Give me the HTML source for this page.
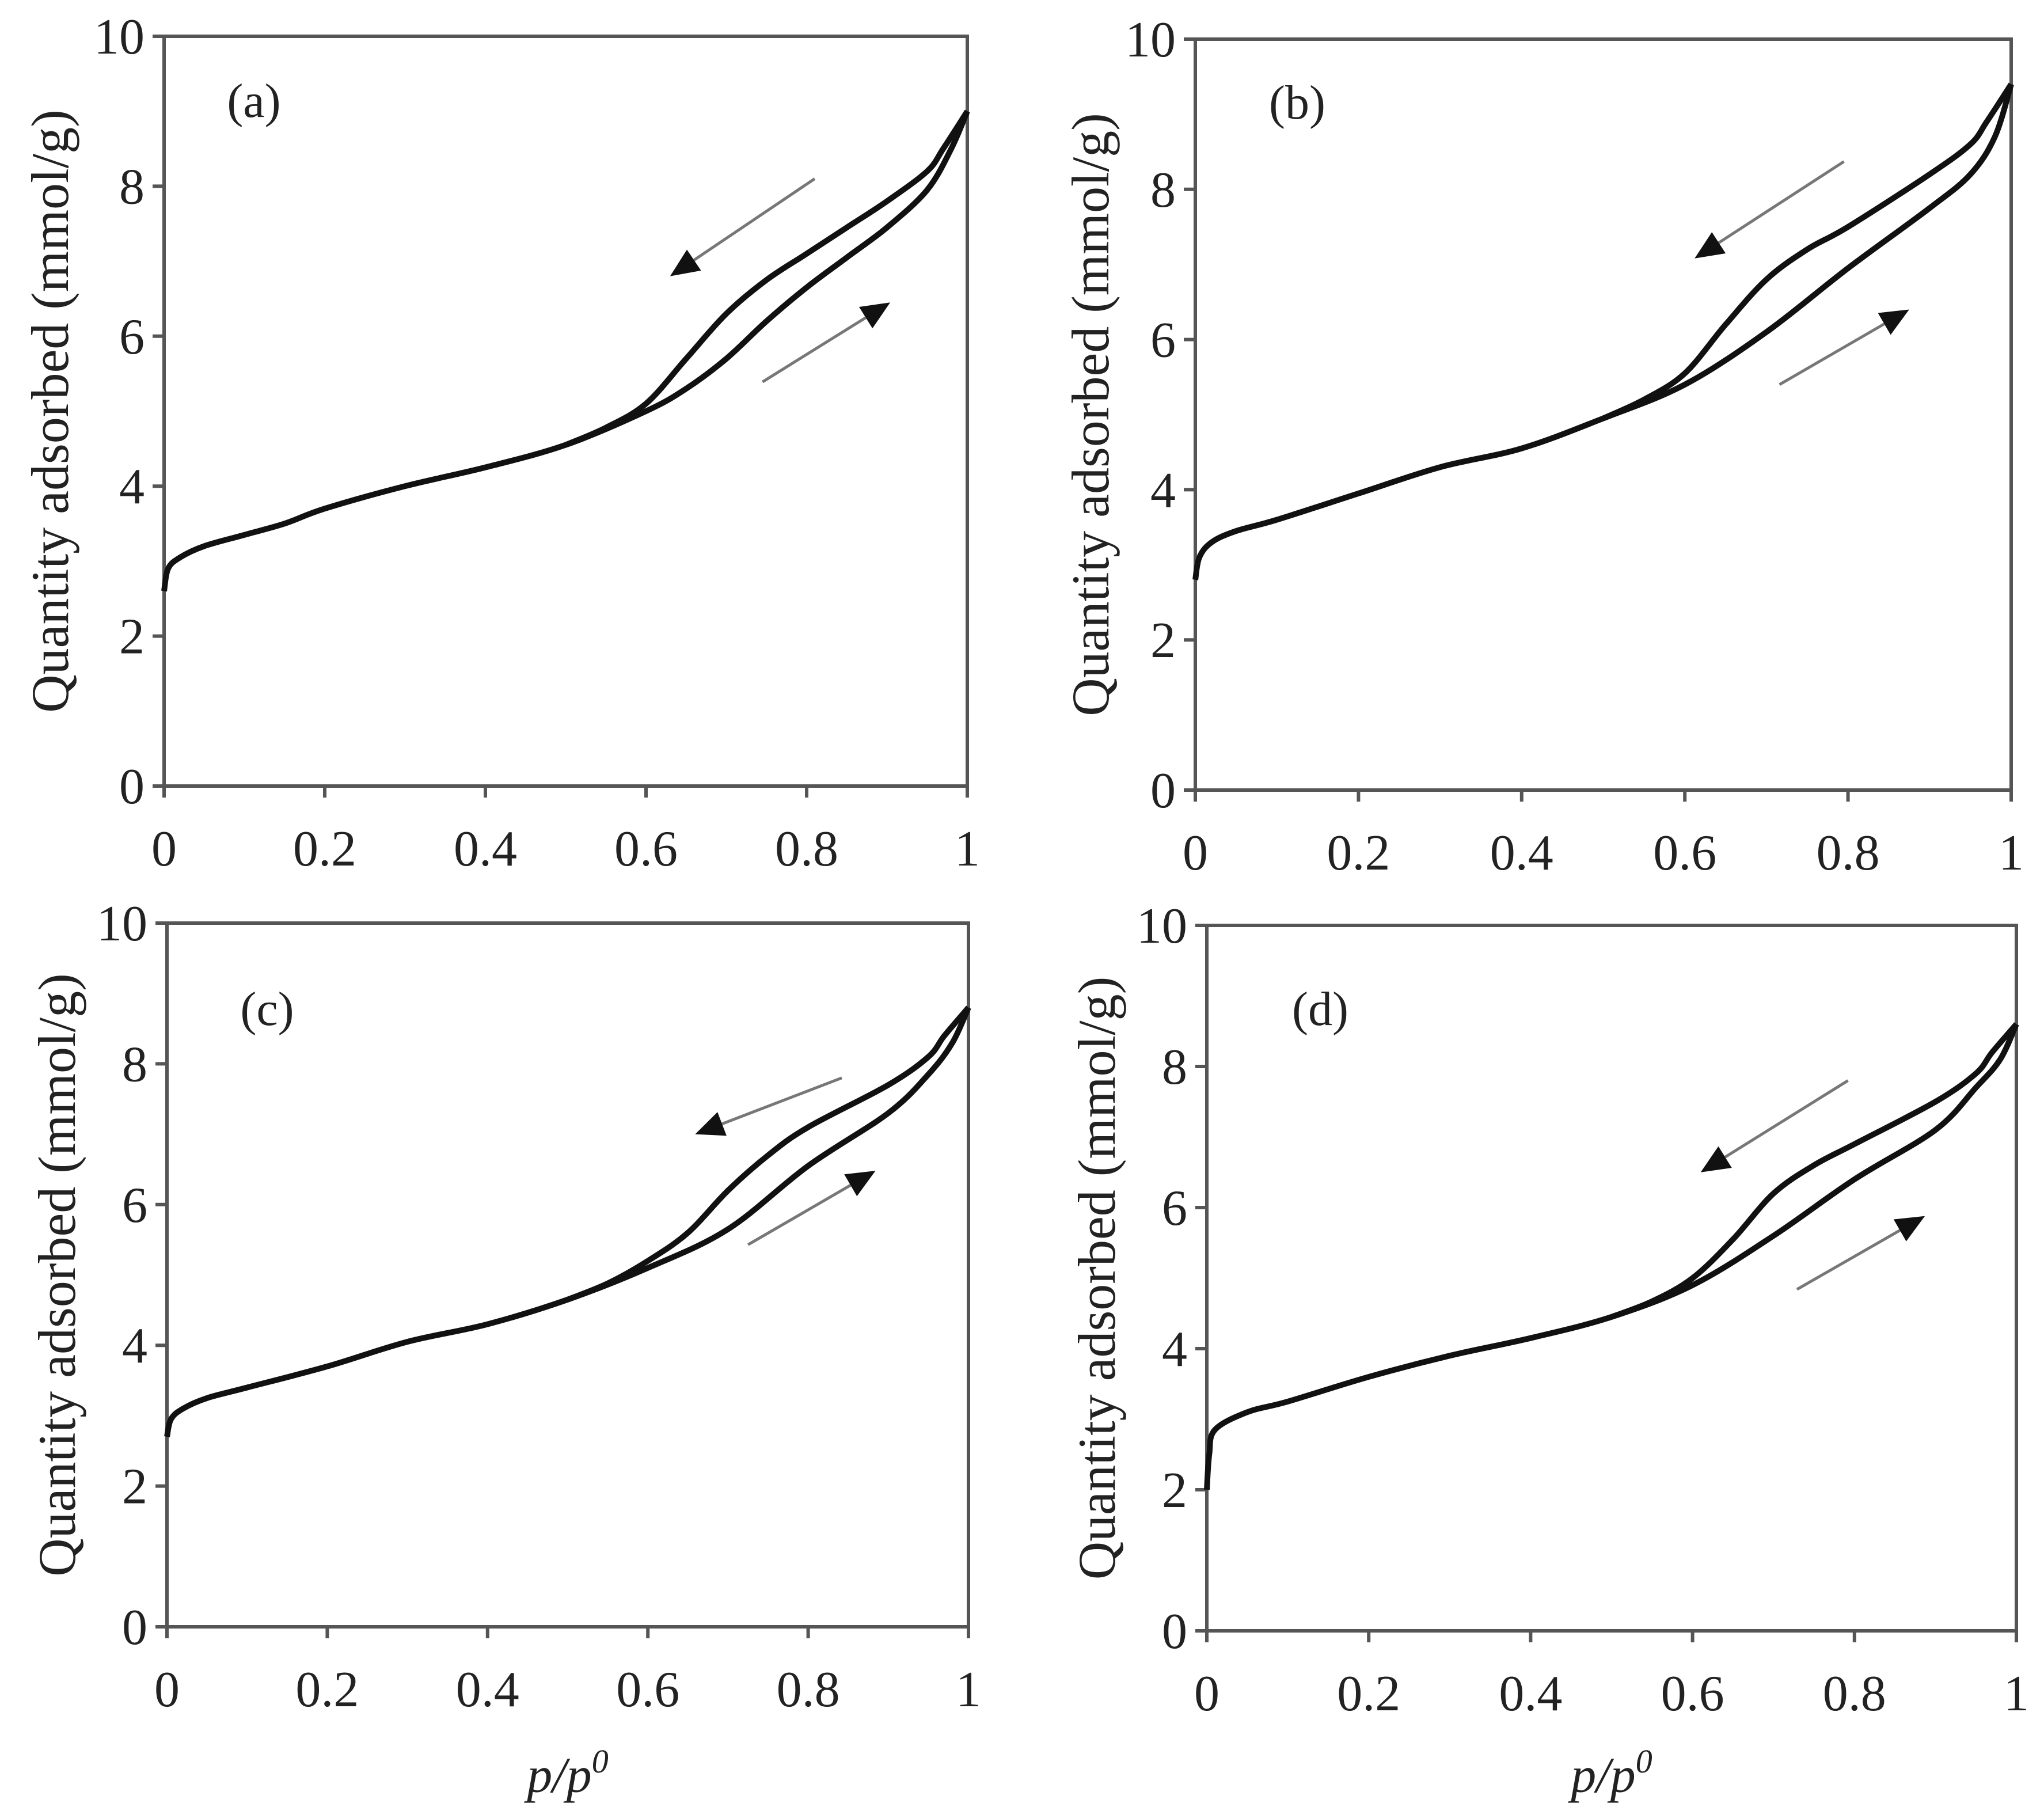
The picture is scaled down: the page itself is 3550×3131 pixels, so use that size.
<!DOCTYPE html>
<html><head><meta charset="utf-8">
<style>
html,body{margin:0;padding:0;background:#fff;}
svg{display:block;}
text{font-family:"Liberation Serif",serif;fill:#222;}
</style></head>
<body>
<svg id="chart" width="3550" height="3131" viewBox="0 0 3550 3131" xmlns="http://www.w3.org/2000/svg"></svg>
<script>
const xTicks=[0,0.2,0.4,0.6,0.8,1];
const xTickLabels=["0","0.2","0.4","0.6","0.8","1"];
const yTicks=[0,2,4,6,8,10];
const yTickLabels=["0","2","4","6","8","10"];
const panelLabels=["(a)","(b)","(c)","(d)"];

const adsX_a=[0,0.005,0.02,0.05,0.1,0.15,0.2,0.3,0.4,0.5,0.6,0.65,0.7,0.75,0.8,0.85,0.9,0.95,0.98,1.0];
const adsY_a=[2.6,2.9,3.05,3.2,3.35,3.5,3.7,4.0,4.25,4.55,5.0,5.3,5.7,6.2,6.65,7.05,7.45,7.95,8.5,9.0];
const desX_a=[1.0,0.97,0.95,0.9,0.85,0.8,0.75,0.7,0.65,0.6,0.55,0.5];
const desY_a=[9.0,8.5,8.2,7.8,7.45,7.1,6.75,6.3,5.7,5.1,4.78,4.55];

const adsX_b=[0,0.005,0.02,0.05,0.1,0.2,0.3,0.4,0.5,0.6,0.7,0.8,0.9,0.95,0.98,1.0];
const adsY_b=[2.8,3.1,3.3,3.45,3.6,3.95,4.3,4.55,4.95,5.4,6.1,6.95,7.75,8.2,8.7,9.4];
const desX_b=[1.0,0.97,0.95,0.9,0.8,0.75,0.7,0.65,0.6,0.55,0.5];
const desY_b=[9.4,8.9,8.6,8.2,7.5,7.2,6.8,6.2,5.55,5.2,4.95];

const adsX_c=[0,0.005,0.02,0.05,0.1,0.2,0.3,0.4,0.5,0.6,0.7,0.8,0.9,0.95,0.98,1.0];
const adsY_c=[2.7,2.95,3.1,3.25,3.4,3.7,4.05,4.3,4.65,5.1,5.65,6.55,7.3,7.85,8.3,8.8];
const desX_c=[1.0,0.97,0.95,0.9,0.8,0.75,0.7,0.65,0.6,0.55,0.5];
const desY_c=[8.8,8.4,8.1,7.7,7.1,6.7,6.2,5.6,5.2,4.88,4.65];

const adsX_d=[0,0.003,0.01,0.05,0.1,0.2,0.3,0.4,0.5,0.6,0.7,0.8,0.9,0.95,0.98,1.0];
const adsY_d=[2.0,2.5,2.85,3.1,3.25,3.6,3.9,4.15,4.45,4.9,5.6,6.4,7.1,7.7,8.1,8.6];
const desX_d=[1.0,0.97,0.95,0.9,0.8,0.75,0.7,0.65,0.6,0.55,0.5];
const desY_d=[8.6,8.2,7.9,7.5,6.9,6.6,6.2,5.55,5.0,4.67,4.45];

// arrows: [x1,y1,x2,y2] in data coords (head at x2,y2)
const desArrow=[[0.81,8.1,0.63,6.8],[0.795,8.37,0.612,7.08],[0.842,7.8,0.659,7.0],[0.792,7.8,0.61,6.5]];
const adsArrow=[[0.745,5.39,0.904,6.45],[0.716,5.4,0.875,6.4],[0.725,5.43,0.884,6.48],[0.729,4.84,0.887,5.88]];

const panels=[
 {x0:285,x1:1680,y0:1365,y1:63,ax:adsX_a,ay:adsY_a,dx:desX_a,dy:desY_a,tx:88,lx:441,ly:195,xt:false},
 {x0:2076,x1:3493,y0:1372,y1:68,ax:adsX_b,ay:adsY_b,dx:desX_b,dy:desY_b,tx:1895,lx:2253,ly:198,xt:false},
 {x0:290,x1:1682,y0:2825,y1:1603,ax:adsX_c,ay:adsY_c,dx:desX_c,dy:desY_c,tx:100,lx:464,ly:1772,xt:true},
 {x0:2096,x1:3502,y0:2832,y1:1607,ax:adsX_d,ay:adsY_d,dx:desX_d,dy:desY_d,tx:1906,lx:2293,ly:1772,xt:true}
];
const NS="http://www.w3.org/2000/svg";
const svg=document.getElementById('chart');
function mk(tag,attrs,parent){const e=document.createElementNS(NS,tag);for(const k in attrs)e.setAttribute(k,attrs[k]);(parent||svg).appendChild(e);return e;}
function smooth(pts){let d="M"+pts[0][0]+","+pts[0][1];for(let i=0;i<pts.length-1;i++){const p0=pts[Math.max(i-1,0)],p1=pts[i],p2=pts[i+1],p3=pts[Math.min(i+2,pts.length-1)];const c1=[p1[0]+(p2[0]-p0[0])/6,p1[1]+(p2[1]-p0[1])/6];const c2=[p2[0]-(p3[0]-p1[0])/6,p2[1]-(p3[1]-p1[1])/6];d+=" C"+c1.join(",")+" "+c2.join(",")+" "+p2.join(",");}return d;}
panels.forEach((p,i)=>{
 const sx=v=>p.x0+(p.x1-p.x0)*v, sy=v=>p.y0+(p.y1-p.y0)*v/10;
 const g=mk('g',{});
 
 
 const box=mk('rect',{x:p.x0,y:p.y1,width:p.x1-p.x0,height:p.y0-p.y1,fill:'none',stroke:'#555','stroke-width':6},g);
 
 
 yTicks.forEach((t,j)=>{
  const y=sy(t);
  const tk=mk('line',{x1:p.x0-20,x2:p.x0,y1:y,y2:y,stroke:'#555','stroke-width':6},g);
  
  
  const tl=mk('text',{x:p.x0-34,y:y+30,'text-anchor':'end','font-size':88},g);
  tl.textContent=yTickLabels[j];
  
  
 });
 xTicks.forEach((t,j)=>{
  const x=sx(t);
  const tk=mk('line',{x1:x,x2:x,y1:p.y0,y2:p.y0+20,stroke:'#555','stroke-width':6},g);
  
  
  const tl=mk('text',{x:x,y:p.y0+138,'text-anchor':'middle','font-size':88},g);
  tl.textContent=xTickLabels[j];
  
  
 });
 const cy=(p.y0+p.y1)/2;
 const yt=mk('text',{x:0,y:0,'text-anchor':'middle','font-size':92,transform:`translate(${p.tx+30},${cy}) rotate(-90)`},g);
 yt.textContent='Quantity adsorbed (mmol/g)';
 
 
 if(p.xt){
  const xt=mk('text',{x:(p.x0+p.x1)/2,y:3112,'text-anchor':'middle','font-size':88,'font-style':'italic'},g);
  xt.innerHTML='p/p<tspan font-size="58" dy="-34">0</tspan>';
  
  
 }
 const pl=mk('text',{x:p.lx,y:p.ly+8,'text-anchor':'middle','font-size':84},g);
 pl.textContent=panelLabels[i];
 
 
 const ads=mk('path',{d:smooth(p.ax.map((v,k)=>[sx(v),sy(p.ay[k])])),fill:'none',stroke:'#111','stroke-width':10,'stroke-linejoin':'round'},g);
 
 
 const des=mk('path',{d:smooth(p.dx.map((v,k)=>[sx(v),sy(p.dy[k])])),fill:'none',stroke:'#111','stroke-width':10,'stroke-linejoin':'round'},g);
 
 
 [desArrow[i],adsArrow[i]].forEach((a,k)=>{
  const X1=sx(a[0]),Y1=sy(a[1]),X2=sx(a[2]),Y2=sy(a[3]);
  const ang=Math.atan2(Y2-Y1,X2-X1),L=50,W=22;
  const bx=X2-L*Math.cos(ang),by=Y2-L*Math.sin(ang);
  const ln=mk('line',{x1:X1,y1:Y1,x2:bx,y2:by,stroke:'#777','stroke-width':5},g);
  
  
  const hd=mk('polygon',{points:`${X2},${Y2} ${bx-W*Math.sin(ang)},${by+W*Math.cos(ang)} ${bx+W*Math.sin(ang)},${by-W*Math.cos(ang)}`,fill:'#111'},g);
  
  
 });
});
</script>
</body></html>
